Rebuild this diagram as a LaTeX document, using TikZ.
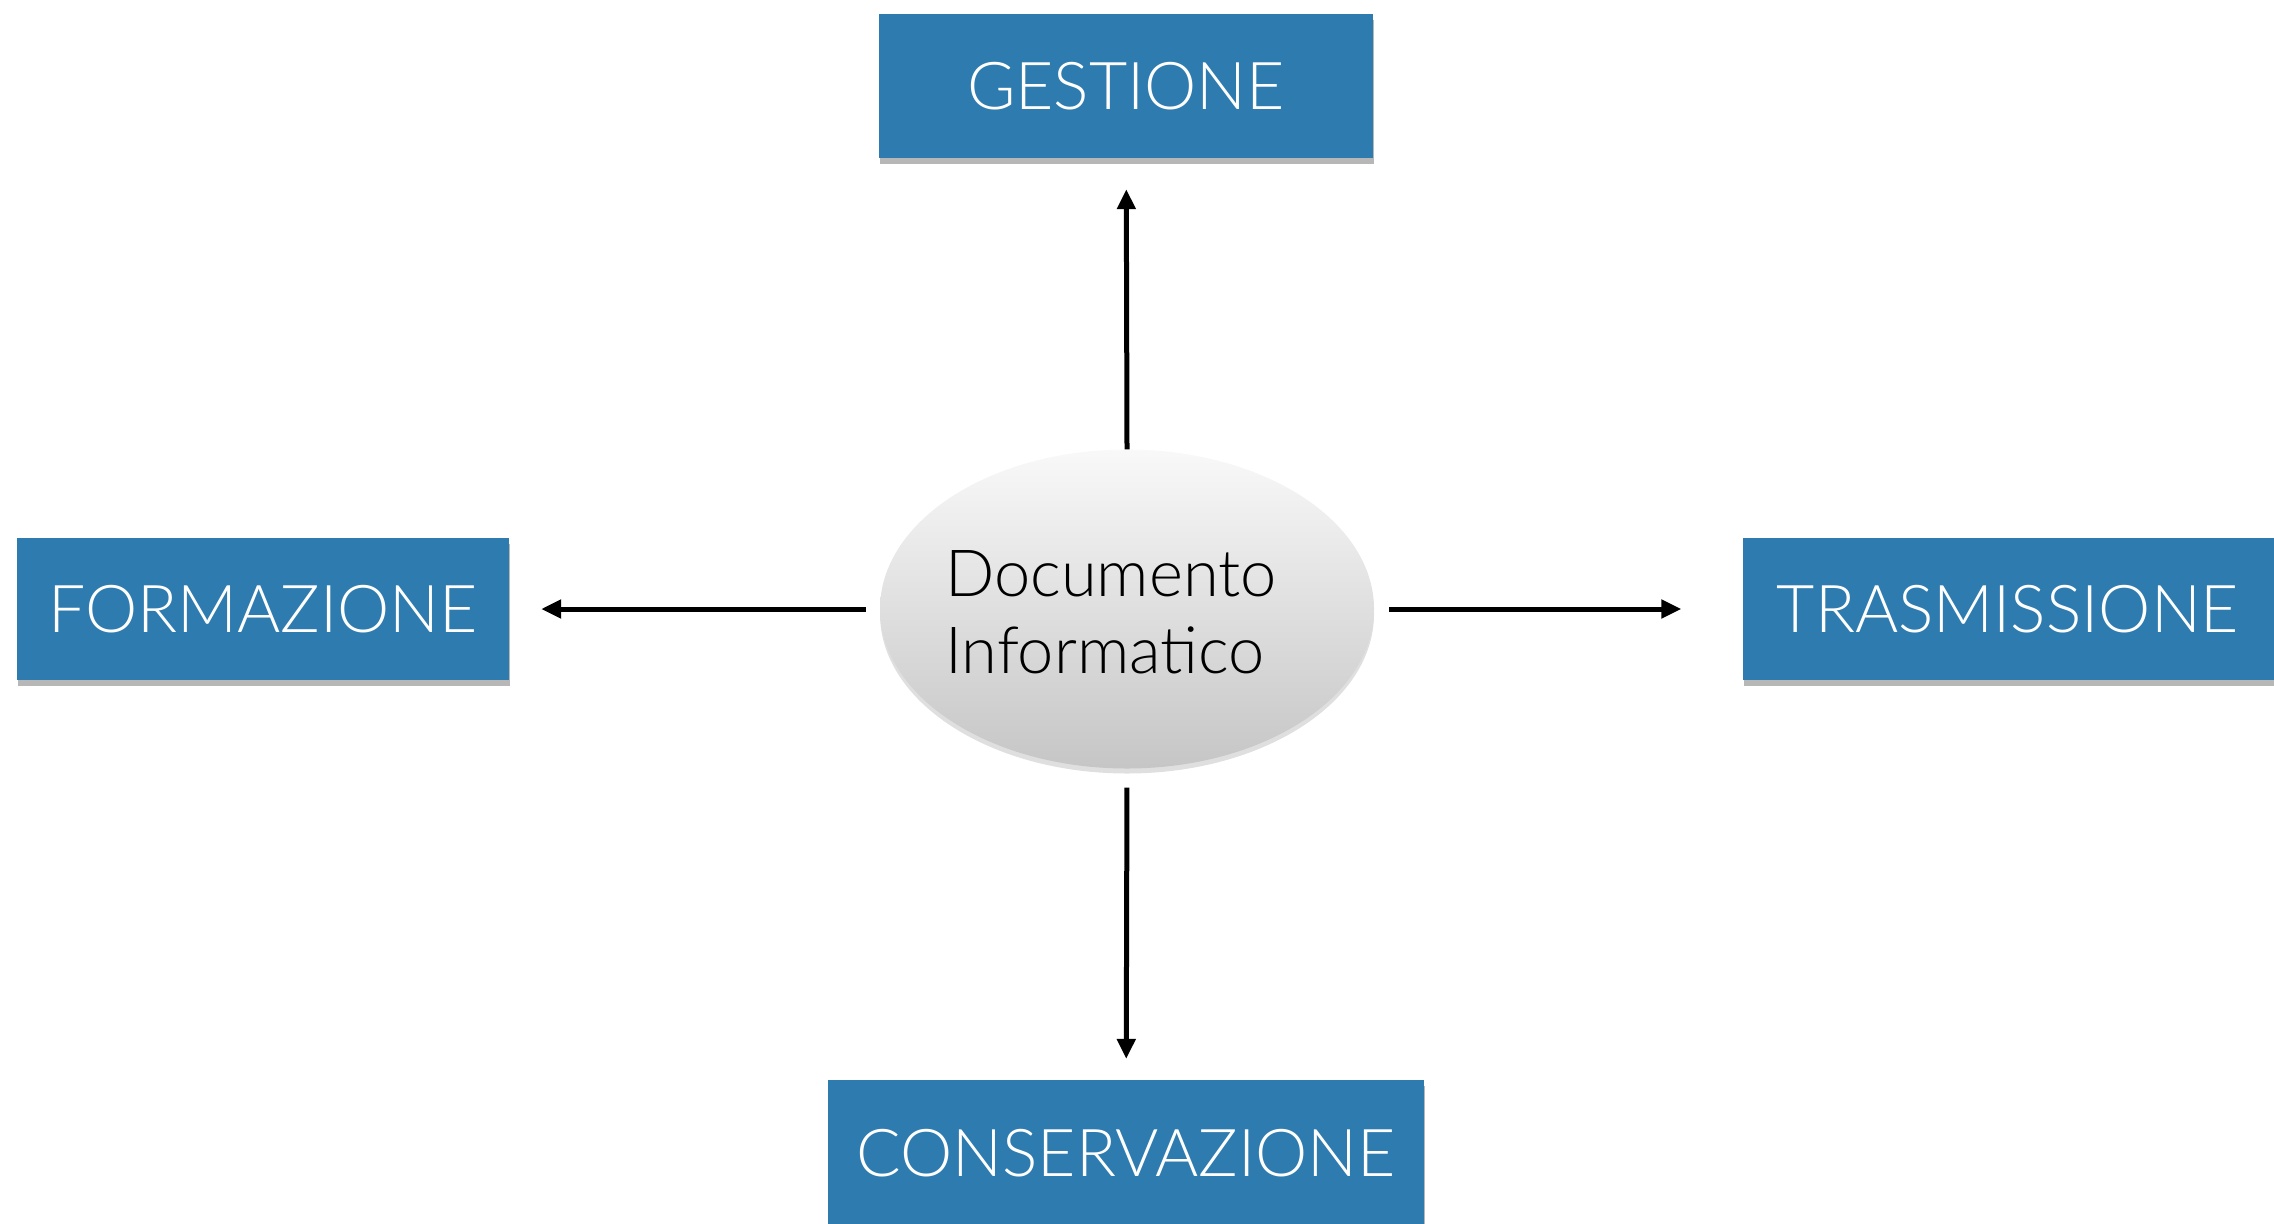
\documentclass[tikz,border=0pt]{standalone}
\usepackage{fontspec}
\setmainfont{TeX Gyre Heros}
\newfontfamily\lightfont{Lato Light}
\usetikzlibrary{arrows.meta,shadows,shapes.geometric}
\definecolor{boxblue}{HTML}{2E7BAF}
\tikzset{
  bluebox/.style={rectangle, fill=boxblue, text=white, inner sep=0pt,
    font=\lightfont\fontsize{66}{76}\selectfont,
    drop shadow={opacity=0.4, shadow xshift=1pt, shadow yshift=-6pt, fill=black!70}},
  conn/.style={line width=5pt, -{Triangle[length=20pt,width=18pt]}}
}
\begin{document}
\begin{tikzpicture}[x=1pt,y=-1pt]
\useasboundingbox (0,0) rectangle (2274,1223);
\node[bluebox, minimum width=494pt, minimum height=144pt] (ges) at (1126,86) {GESTIONE};
\node[bluebox, minimum width=492pt, minimum height=142pt] (for) at (263,609) {FORMAZIONE};
\node[bluebox, minimum width=531pt, minimum height=142pt] (tra) at (2008,609) {TRASMISSIONE};
\node[bluebox, minimum width=596pt, minimum height=146pt] (con) at (1126,1153) {CONSERVAZIONE};
\node[ellipse, minimum width=494pt, minimum height=319pt, inner sep=0pt,
  top color=gray!5, bottom color=gray!45,
  drop shadow={opacity=0.25, shadow xshift=0pt, shadow yshift=-5pt}] (doc) at (1127,609) {};
\node[align=left, font=\lightfont\fontsize{65}{77}\selectfont, text=black] (doctext) at (1111,612) {Documento\\Informatico};
\draw[conn, shorten >=31pt] (doc.north) -- (ges);
\draw[conn, shorten <=14pt, shorten >=32pt] (doc.west) -- (for);
\draw[conn, shorten <=15pt, shorten >=61pt] (doc.east) -- (tra);
\draw[conn, shorten <=19pt, shorten >=21pt] (doc.south) -- (con);
\end{tikzpicture}
\end{document}
